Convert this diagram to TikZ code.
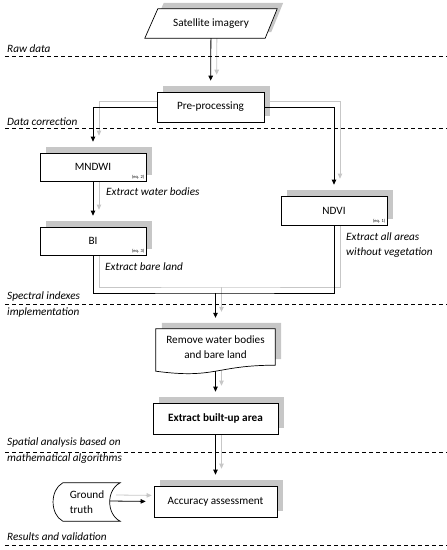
\documentclass[tikz,border=0pt]{standalone}
\usepackage{fontspec}
\setmainfont{Carlito}
\usetikzlibrary{positioning,arrows.meta,shadows,backgrounds}

\begin{document}
\begin{tikzpicture}[
  x=1pt, y=-1pt,
  font=\fontsize{11.2}{14.5}\selectfont,
  grayback/.style={drop shadow={shadow xshift=6pt, shadow yshift=6pt, fill=black!22, opacity=1}},
  box/.style={draw, line width=0.7pt, fill=white, align=center, inner sep=2pt, grayback},
  outline/.style={line width=0.7pt, fill=white},
  wire/.style={line width=0.8pt},
  flow/.style={wire, -{Triangle[length=5pt,width=4.5pt]}, shorten >=11pt},
  ghost/.style={draw=black!22, transform canvas={xshift=6pt, yshift=6pt}},
  sep/.style={dash pattern=on 4pt off 3pt, line width=0.7pt},
  stage/.style={font=\fontsize{11.2}{16}\selectfont\itshape, anchor=west, align=left, inner sep=0pt},
  note/.style={font=\fontsize{11.2}{15}\selectfont\itshape, anchor=west, align=left, inner sep=0pt},
  eq/.style={font=\fontsize{4.5}{5}\selectfont, anchor=south east, inner sep=2pt}]

\useasboundingbox (0,0) rectangle (447,550);

\node[align=center, minimum width=119pt, minimum height=29pt] (sat) at (211,23.5) {Satellite imagery};
\node[box, minimum width=107pt, minimum height=30pt] (pre) at (210.5,107) {Pre-processing};
\node[box, minimum width=106pt, minimum height=28pt] (mndwi) at (93,167) {MNDWI};
\node[box, minimum width=106pt, minimum height=28pt] (bi) at (93,241) {BI};
\node[box, minimum width=106pt, minimum height=29pt] (ndvi) at (334,210.5) {NDVI};
\node[align=center, minimum width=119pt, minimum height=36pt] (remove) at (215.5,347) {Remove water bodies\\and bare land};
\node[box, minimum width=125pt, minimum height=31pt, font=\fontsize{11.2}{14.5}\selectfont\bfseries] (built) at (215.5,418.5) {Extract built-up area};
\node[box, minimum width=123pt, minimum height=31pt] (acc) at (215.5,501.5) {Accuracy assessment};
\node[align=left, minimum width=66pt, minimum height=38pt] (ground) at (87,502) {Ground\\truth};

\node[eq] (eq-mndwi) at (mndwi.south east) {(eq. 2)};
\node[eq] (eq-bi) at (bi.south east) {(eq. 3)};
\node[eq] (eq-ndvi) at (ndvi.south east) {(eq. 1)};

\node[note] (n-water) at (106,192) {Extract water bodies};
\node[note] (n-bare) at (105,267) {Extract bare land};
\node[note] (n-veg) at (346,245.5) {Extract all areas\\without vegetation};

\node[stage] (raw) at (7,49) {Raw data};
\node[stage] (corr) at (7,122) {Data correction};
\node[stage] (spec) at (7,305) {Spectral indexes\\implementation};
\node[stage] (spat) at (7,451) {Spatial analysis based on\\mathematical algorithms};
\node[stage] (res) at (7,537) {Results and validation};

\draw[sep] (5,56) -- (447,56);
\draw[sep] (5,128) -- (447,128);
\draw[sep] (5,304) -- (447,304);
\draw[sep] (5,452) -- (447,452);
\draw[sep] (5,545) -- (447,545);

\coordinate (merge) at (215.5,293);
\coordinate (remove-bot) at ([yshift=-6pt]remove.south);
\coordinate (gt-out) at (110,501);

\draw[flow] (sat) -- (pre);
\draw[flow] (pre.west) -| (mndwi.north);
\draw[flow] (pre.east) -| (ndvi.north);
\draw[flow] (mndwi) -- (bi);
\draw[wire] (bi.south) |- (merge) -| (ndvi.south);
\draw[flow] (merge) -- (remove.north);
\draw[flow] (remove-bot) -- (built);
\draw[flow] (built) -- (acc);
\draw[flow, shorten >=8pt] (gt-out) -- (acc.west);

\begin{scope}[on background layer]
  \draw[flow, ghost] (sat) -- (pre);
  \draw[flow, ghost] (pre.west) -| (mndwi.north);
  \draw[flow, ghost] (pre.east) -| (ndvi.north);
  \draw[flow, ghost] (mndwi) -- (bi);
  \draw[wire, ghost] (bi.south) |- (merge) -| (ndvi.south);
  \draw[flow, ghost] (merge) -- (remove.north);
  \draw[flow, ghost] (remove-bot) -- (built);
  \draw[flow, ghost] (built) -- (acc);
  \draw[flow, ghost, shorten >=8pt] (gt-out) -- (acc.west);

  \draw[outline, grayback] ([xshift=6.5pt]sat.north west) -- ([xshift=6.5pt]sat.north east)
    -- ([xshift=-5.5pt]sat.south east) -- ([xshift=-6.5pt]sat.south west) -- cycle;
  \draw[outline, grayback] (remove.north west) -- (remove.north east) -- (remove.south east)
    .. controls (remove.south) and ([yshift=-14pt]remove.south) .. ([yshift=-6pt]remove.south west) -- cycle;
  \draw[outline] ([xshift=9pt]ground.north west) -- (ground.north east)
    .. controls +(-14,7) and +(-14,-7) .. (ground.south east) -- ([xshift=9pt]ground.south west)
    .. controls +(-13,-7) and +(-13,7) .. ([xshift=9pt]ground.north west) -- cycle;
\end{scope}
\end{tikzpicture}
\end{document}
